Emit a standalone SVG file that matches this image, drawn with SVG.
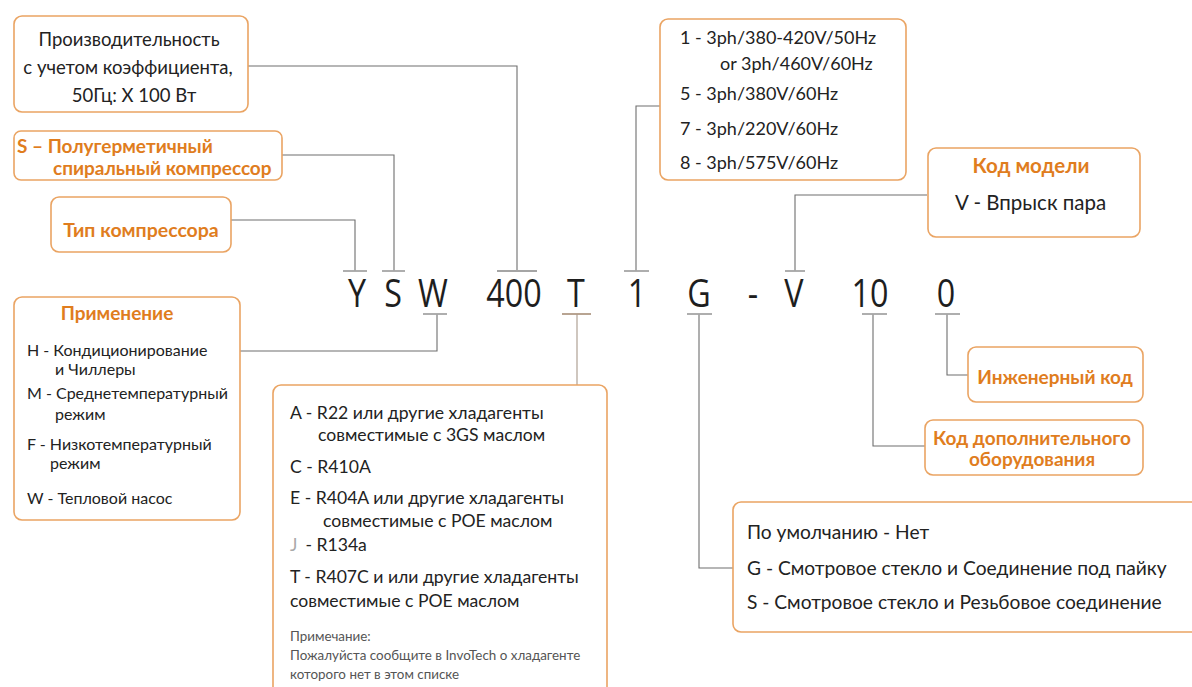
<svg xmlns="http://www.w3.org/2000/svg" width="1192" height="687" viewBox="0 0 1192 687">
<style>
.box{fill:#fff;stroke:#eaa463;stroke-width:1.6}
.t{font-family:Lato,'Open Sans','Noto Sans',sans-serif;fill:#222}
.o{font-family:Lato,'Open Sans','Noto Sans',sans-serif;fill:#e07d1e;font-weight:bold}
.code{font-family:'Open Sans','Noto Sans',sans-serif;font-size:38px;fill:#1e1e1e;text-anchor:middle}
.c{fill:none;stroke:#6e6e6e;stroke-width:1.1}
.tick{stroke:#a5a5a5;stroke-width:1.8}
</style>
<rect width="1192" height="687" fill="#fff"/>
<g id="connectors">
<path class="c" d="M248,66 H517 V271"/>
<path class="c" d="M282,155 H394 V271"/>
<path class="c" d="M231,220 H355 V271"/>
<path class="c" d="M660,106 H636 V271"/>
<path class="c" d="M927,195 H795 V271"/>
<path class="c" d="M240,351 H437 V314"/>
<path class="c" d="M577,314 V385" style="stroke:#a8988a"/>
<path class="c" d="M699,314 V568 H733"/>
<path class="c" d="M873,314 V446 H925"/>
<path class="c" d="M947,314 V375 H968"/>
<line class="tick" x1="343" y1="271" x2="367" y2="271"/>
<line class="tick" x1="382" y1="271" x2="405" y2="271"/>
<line class="tick" x1="497" y1="271" x2="537" y2="271"/>
<line class="tick" x1="624" y1="271" x2="649" y2="271"/>
<line class="tick" x1="785" y1="271" x2="805" y2="271"/>
<line class="tick" x1="423" y1="314" x2="447" y2="314"/>
<line class="tick" x1="562" y1="314" x2="591" y2="314" style="stroke:#b09a86"/>
<line class="tick" x1="687" y1="314" x2="712" y2="314"/>
<line class="tick" x1="862" y1="314" x2="887" y2="314"/>
<line class="tick" x1="935" y1="314" x2="960" y2="314"/>
</g>
<g id="code">
<text class="code" transform="translate(357,307) scale(0.85,1)">Y</text>
<text class="code" transform="translate(393,307) scale(0.85,1)">S</text>
<text class="code" transform="translate(433,307) scale(0.85,1)">W</text>
<text class="code" transform="translate(514,307) scale(0.85,1)">400</text>
<text class="code" transform="translate(576,307) scale(0.85,1)">T</text>
<text class="code" transform="translate(637,307) scale(0.85,1)">1</text>
<text class="code" transform="translate(699,307) scale(0.85,1)">G</text>
<text class="code" transform="translate(753,307) scale(0.85,1)">-</text>
<text class="code" transform="translate(794,307) scale(0.85,1)">V</text>
<text class="code" transform="translate(870,307) scale(0.85,1)">10</text>
<text class="code" transform="translate(946,307) scale(0.85,1)">0</text>
</g>
<g id="capacity">
<rect class="box" x="14" y="16" width="234" height="96" rx="8"/>
<text class="t" font-size="18.5" text-anchor="middle"><tspan x="129" y="46">Производительность</tspan><tspan x="128" y="74">с учетом коэффициента,</tspan><tspan x="134" y="102">50Гц: X 100 Вт</tspan></text>
</g>
<g id="semiherm">
<rect class="box" x="14" y="131" width="268" height="49" rx="7"/>
<text class="o" font-size="19"><tspan x="17" y="153">S – Полугерметичный</tspan><tspan x="53" y="175">спиральный компрессор</tspan></text>
</g>
<g id="type">
<rect class="box" x="51" y="197" width="180" height="55" rx="8"/>
<text class="o" font-size="19.5" x="141" y="237" text-anchor="middle">Тип компрессора</text>
</g>
<g id="voltage">
<rect class="box" x="660" y="19" width="246" height="161" rx="8"/>
<text class="t" font-size="18"><tspan x="680" y="44">1 - 3ph/380-420V/50Hz</tspan><tspan x="720" y="70">or 3ph/460V/60Hz</tspan><tspan x="680" y="100">5 - 3ph/380V/60Hz</tspan><tspan x="680" y="135">7 - 3ph/220V/60Hz</tspan><tspan x="680" y="169">8 - 3ph/575V/60Hz</tspan></text>
</g>
<g id="model">
<rect class="box" x="928" y="148" width="212" height="89" rx="8"/>
<text class="o" font-size="20.5" x="1031" y="173" text-anchor="middle">Код модели</text>
<text class="t" font-size="20.5" x="955" y="210">V - Впрыск пара</text>
</g>
<g id="application">
<rect class="box" x="14" y="297" width="226" height="223" rx="8"/>
<text class="o" font-size="19" x="117" y="320" text-anchor="middle">Применение</text>
<text class="t" font-size="16"><tspan x="27" y="356">H - Кондиционирование</tspan><tspan x="55" y="375">и Чиллеры</tspan><tspan x="27" y="399">M - Среднетемпературный</tspan><tspan x="55" y="420">режим</tspan><tspan x="27" y="450">F - Низкотемпературный</tspan><tspan x="50" y="469">режим</tspan><tspan x="27" y="504">W - Тепловой насос</tspan></text>
</g>
<g id="refrigerant">
<rect class="box" x="273" y="385" width="334" height="310" rx="8"/>
<text class="t" font-size="17.6"><tspan x="290" y="419">A - R22 или другие хладагенты</tspan><tspan x="318" y="441">совместимые с 3GS маслом</tspan><tspan x="290" y="473">C - R410A</tspan><tspan x="290" y="504">E  - R404A или другие хладагенты</tspan><tspan x="323" y="527">совместимые с POE маслом</tspan><tspan x="290" y="551" style="fill:#aaa">J</tspan><tspan dx="8" y="551">- R134a</tspan><tspan x="290" y="583">T  - R407C и или другие хладагенты</tspan><tspan x="290" y="607">совместимые с POE маслом</tspan></text>
<text class="t" font-size="13.4" style="fill:#555"><tspan x="290" y="641">Примечание:</tspan><tspan x="290" y="660">Пожалуйста сообщите в InvoTech о хладагенте</tspan><tspan x="290" y="679">которого нет в этом списке</tspan></text>
</g>
<g id="fittings">
<rect class="box" x="733" y="502" width="470" height="130" rx="8"/>
<text class="t" font-size="19.2"><tspan x="747" y="539">По умолчанию - Нет</tspan><tspan x="747" y="575">G - Смотровое стекло и Соединение под пайку</tspan><tspan x="747" y="609">S - Смотровое стекло и Резьбовое соединение</tspan></text>
</g>
<g id="engineering">
<rect class="box" x="968" y="347" width="175" height="55" rx="8"/>
<text class="o" font-size="19" x="1055" y="384" text-anchor="middle">Инженерный код</text>
</g>
<g id="options">
<rect class="box" x="925" y="420" width="218" height="55" rx="8"/>
<text class="o" font-size="19" text-anchor="middle"><tspan x="1032" y="445">Код дополнительного</tspan><tspan x="1032" y="466">оборудования</tspan></text>
</g>
</svg>
